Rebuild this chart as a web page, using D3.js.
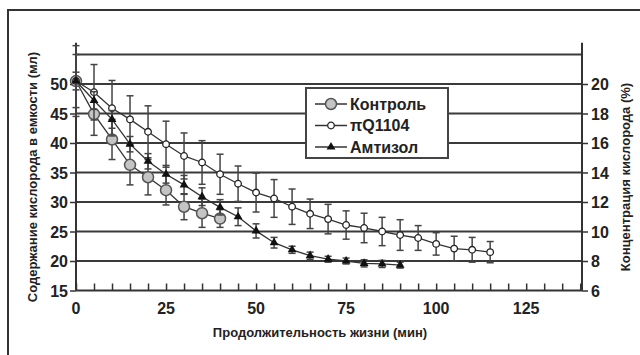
<!DOCTYPE html>
<html>
<head>
<meta charset="utf-8">
<script src="https://cdn.jsdelivr.net/npm/d3@7"></script>
<style>
  body { margin: 0; background: #fff; }
  text { font-family: "Liberation Sans", Arial, sans-serif; font-weight: bold; fill: #222; }
</style>
</head>
<body>
<div id="chart"></div>
<script>
var width = 640, height = 355;

// minutes
var tControl = [0, 5, 10, 15, 20, 25, 30, 35, 40];
var control = [50.5, 44.9, 40.6, 36.3, 34.2, 32.0, 29.2, 28.1, 27.2];
var controlErr = [1.5, 3.6, 3.4, 3.4, 3.0, 2.5, 2.2, 2.4, 1.5];

var tPq = [0, 5, 10, 15, 20, 25, 30, 35, 40, 45, 50, 55, 60, 65, 70, 75, 80, 85, 90, 95, 100, 105, 110, 115];
var pq = [50.5, 48.6, 45.9, 44.0, 41.9, 39.8, 37.8, 36.7, 34.7, 33.1, 31.6, 30.6, 29.2, 28.0, 27.1, 26.1, 25.6, 25.0, 24.4, 23.9, 22.9, 22.1, 21.9, 21.5];
var pqErr = [4.5, 4.7, 4.7, 4.0, 4.4, 3.9, 3.9, 3.7, 3.4, 3.0, 3.3, 3.2, 3.0, 2.5, 2.5, 2.4, 2.5, 2.4, 2.6, 2.1, 1.9, 2.1, 2.1, 1.8];

var tAmt = [0, 5, 10, 15, 20, 25, 30, 35, 40, 45, 50, 55, 60, 65, 70, 75, 80, 85, 90];
var amt = [50.5, 47.2, 44.0, 39.8, 36.9, 34.7, 32.9, 30.9, 29.1, 27.5, 25.1, 23.1, 21.9, 20.9, 20.3, 20.0, 19.6, 19.5, 19.3];
var amtErr = [6.0, 1.5, 1.5, 1.3, 1.3, 1.5, 1.6, 1.5, 1.3, 1.5, 1.2, 0.9, 0.6, 0.6, 0.5, 0.5, 0.6, 0.6, 0.5];

var xTicks = [0, 25, 50, 75, 100, 125];
var yTicks = [15, 20, 25, 30, 35, 40, 45, 50];
var gridVals = [20, 25, 30, 35, 40, 45, 50, 55];
var y2Ticks = [6, 8, 10, 12, 14, 16, 18, 20];

var series = [
  {name: "Контроль", t: tControl, v: control, e: controlErr, type: "big"},
  {name: "πQ1104", t: tPq, v: pq, e: pqErr, type: "open"},
  {name: "Амтизол", t: tAmt, v: amt, e: amtErr, type: "tri"}
];

var xScale = d3.scaleLinear().domain([0, 140.5]).range([76, 582]);
var yScale = d3.scaleLinear().domain([15, 57]).range([290.5, 42.7]);
var y2Scale = d3.scaleLinear().domain([6, 22.8]).range([290.5, 42.7]);

var svg = d3.select("#chart").append("svg")
  .attr("width", width).attr("height", height);

svg.append("rect").attr("width", width).attr("height", height).attr("fill", "#fff");

// outer frame (right/bottom edges fall outside)
svg.append("rect")
  .attr("x", 8).attr("y", 10).attr("width", 700).attr("height", 400)
  .attr("fill", "none").attr("stroke", "#333").attr("stroke-width", 2);

// gridlines
svg.selectAll(".grid").data(gridVals).enter().append("line")
  .attr("x1", xScale(0)).attr("x2", xScale(140.5))
  .attr("y1", function(d) { return yScale(d); })
  .attr("y2", function(d) { return yScale(d); })
  .attr("stroke", "#3a3a3a").attr("stroke-width", 2);

// left axis
var yAxis = d3.axisLeft(yScale).tickValues(yTicks).tickSize(6).tickPadding(2);
var gy = svg.append("g").attr("transform", "translate(" + xScale(0) + ",0)").call(yAxis);
gy.select(".domain").remove();
gy.selectAll("line").attr("stroke", "#333").attr("stroke-width", 1.5);
gy.selectAll("text").style("font-size", "16px").attr("fill", "#222").attr("dy", "0.36em");
svg.append("line").attr("x1", xScale(0)).attr("x2", xScale(0))
  .attr("y1", yScale(15)).attr("y2", yScale(57))
  .attr("stroke", "#333").attr("stroke-width", 2);

// right axis
var y2Axis = d3.axisRight(y2Scale).tickValues(y2Ticks).tickSize(6).tickPadding(3);
var gy2 = svg.append("g").attr("transform", "translate(" + xScale(140.5) + ",0)").call(y2Axis);
gy2.select(".domain").remove();
gy2.selectAll("line").attr("stroke", "#333").attr("stroke-width", 1.5);
gy2.selectAll("text").style("font-size", "16px").attr("fill", "#222").attr("dy", "0.36em");
svg.append("line").attr("x1", xScale(140.5)).attr("x2", xScale(140.5))
  .attr("y1", yScale(15)).attr("y2", yScale(57))
  .attr("stroke", "#333").attr("stroke-width", 2);

// bottom axis, ticks pointing up
var xAxis = d3.axisBottom(xScale).tickValues(d3.range(0, 141, 5)).tickSize(-7).tickFormat("");
var gx = svg.append("g").attr("transform", "translate(0," + yScale(15) + ")").call(xAxis);
gx.select(".domain").remove();
gx.selectAll("line").attr("stroke", "#333").attr("stroke-width", 1.5);
svg.append("line").attr("x1", xScale(0)).attr("x2", xScale(140.5))
  .attr("y1", yScale(15)).attr("y2", yScale(15))
  .attr("stroke", "#333").attr("stroke-width", 2);
svg.selectAll(".xlab").data(xTicks).enter().append("text")
  .attr("x", function(d) { return xScale(d); })
  .attr("y", 314)
  .attr("text-anchor", "middle")
  .style("font-size", "16px")
  .text(function(d) { return d; });

// titles
svg.append("text").attr("x", 320).attr("y", 337).attr("text-anchor", "middle")
  .style("font-size", "13px").text("Продолжительность жизни (мин)");
svg.append("text").attr("transform", "translate(37,177) rotate(-90)").attr("text-anchor", "middle")
  .style("font-size", "13px").text("Содержание кислорода в емкости (мл)");
svg.append("text").attr("transform", "translate(630,177) rotate(-90)").attr("text-anchor", "middle")
  .style("font-size", "13px").text("Концентрация кислорода (%)");

var tri = d3.symbol().type(d3.symbolTriangle).size(34);

function drawMarker(g, type) {
  if (type == "big") {
    g.append("circle").attr("r", 5.5).attr("fill", "#c4c4c4").attr("stroke", "#555").attr("stroke-width", 1.5);
  } else if (type == "open") {
    g.append("circle").attr("r", 3.3).attr("fill", "#fff").attr("stroke", "#222").attr("stroke-width", 1.3);
  } else {
    g.append("path").attr("d", tri).attr("fill", "#111");
  }
}

// draw series: error bars, lines, markers
series.forEach(function(s) {
  var pts = s.t.map(function(t, i) { return {t: t, v: s.v[i], e: s.e[i]}; });
  var g = svg.append("g");

  var eb = g.selectAll(".eb").data(pts).enter().append("g")
    .attr("stroke", "#444").attr("stroke-width", 1.5);
  eb.append("line")
    .attr("x1", function(d) { return xScale(d.t); }).attr("x2", function(d) { return xScale(d.t); })
    .attr("y1", function(d) { return yScale(d.v - d.e); }).attr("y2", function(d) { return yScale(d.v + d.e); });
  [-1, 1].forEach(function(sg) {
    eb.append("line")
      .attr("x1", function(d) { return xScale(d.t) - 3.5; }).attr("x2", function(d) { return xScale(d.t) + 3.5; })
      .attr("y1", function(d) { return yScale(d.v + sg * d.e); }).attr("y2", function(d) { return yScale(d.v + sg * d.e); });
  });

  g.append("path").datum(pts)
    .attr("fill", "none").attr("stroke", "#333").attr("stroke-width", 1.3)
    .attr("d", d3.line().x(function(d) { return xScale(d.t); }).y(function(d) { return yScale(d.v); }));

  g.selectAll(".pt").data(pts).enter().append("g")
    .attr("transform", function(d) { return "translate(" + xScale(d.t) + "," + yScale(d.v) + ")"; })
    .each(function() { drawMarker(d3.select(this), s.type); });
});

// legend
var leg = svg.append("g");
leg.append("rect").attr("x", 306).attr("y", 88).attr("width", 142).attr("height", 70)
  .attr("fill", "#fff").attr("stroke", "#444").attr("stroke-width", 2);
series.forEach(function(s, i) {
  var ly = 104 + i * 21.5;
  leg.append("line").attr("x1", 315).attr("x2", 347).attr("y1", ly).attr("y2", ly)
    .attr("stroke", "#333").attr("stroke-width", 1.5);
  drawMarker(leg.append("g").attr("transform", "translate(331," + ly + ")"), s.type);
  leg.append("text").attr("x", 350).attr("y", ly).attr("dy", "0.36em")
    .style("font-size", "16px").text(s.name);
});
</script>
</body>
</html>
